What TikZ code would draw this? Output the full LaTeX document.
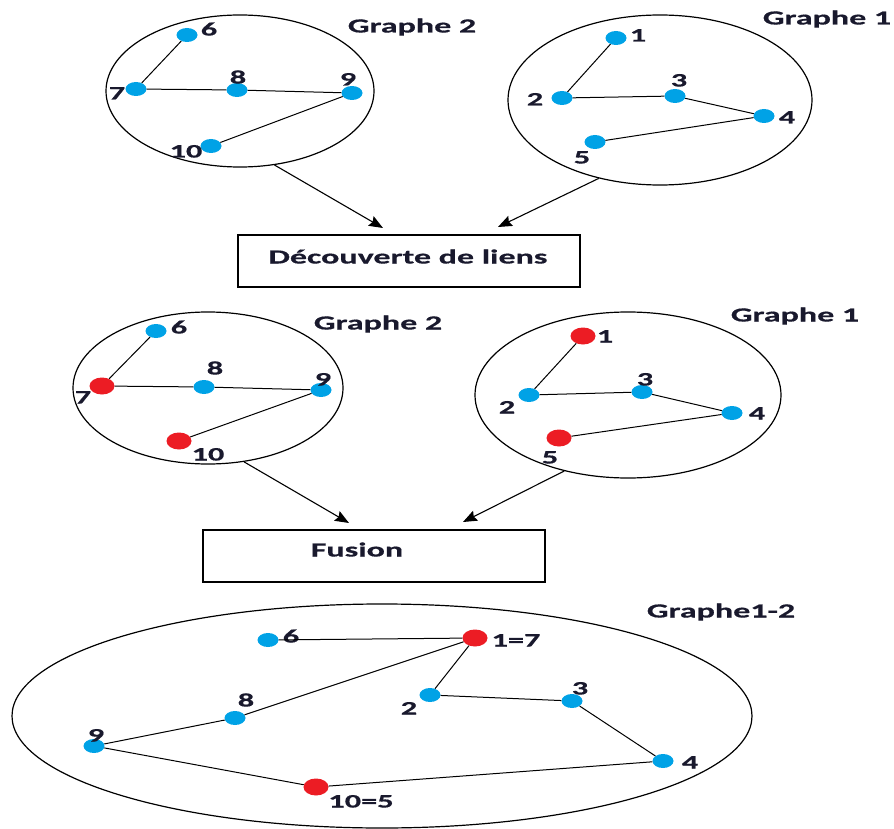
\documentclass[tikz,border=0pt]{standalone}
\usepackage{fontspec}
\newfontfamily\lbl[FakeStretch=1.7,FakeBold=0.6]{Carlito}
\usetikzlibrary{shapes.geometric,arrows.meta}
\definecolor{dotblue}{RGB}{0,162,230}
\definecolor{dotred}{RGB}{236,28,36}
\definecolor{ink}{RGB}{25,25,45}
\tikzset{
  vtx/.style={ellipse,fill=dotblue,inner sep=0,minimum width=21,minimum height=14},
  vred/.style={ellipse,fill=dotred,inner sep=0,minimum width=25,minimum height=17},
  num/.style={inner sep=0,text height=13,text depth=0,text=ink,font=\lbl\bfseries\fontsize{19}{22}\selectfont},
  title/.style={num,font=\lbl\bfseries\fontsize{20}{24}\selectfont},
  hull/.style={ellipse,draw,line width=1.2,inner sep=0},
  edge/.style={line width=1},
  stepbox/.style={draw,line width=1.3,inner sep=0},
  flow/.style={line width=1.1,-{Stealth[length=14,width=11,inset=2]}}
}
\begin{document}
\begin{tikzpicture}[x=1pt,y=-1pt]
\useasboundingbox (0,0) rectangle (894,829);

% ---- first row: the two input graphs ----
\node[hull,minimum width=268,minimum height=152] (G2a) at (240,91) {};
\node[title] (t2a) at (412,26) {Graphe 2};
\node[vtx] (a6) at (187,35) {};
\node[vtx] (a7) at (136,89) {};
\node[vtx] (a8) at (237,90) {};
\node[vtx] (a9) at (352,93) {};
\node[vtx] (a10) at (211,146) {};
\node[num] (la6) at (209,29) {6};
\node[num] (la7) at (117,93) {7};
\node[num] (la8) at (238,77) {8};
\node[num] (la9) at (348,79) {9};
\node[num] (la10) at (186,151) {10};
\draw[edge] (a6) -- (a7);
\draw[edge] (a7) -- (a8);
\draw[edge] (a8) -- (a9);
\draw[edge] (a9) -- (a10);

\node[hull,minimum width=304,minimum height=170] (G1a) at (660,100) {};
\node[title] (t1a) at (827,18) {Graphe 1};
\node[vtx] (a1) at (616,38) {};
\node[vtx] (a2) at (562,98) {};
\node[vtx] (a3) at (675,96) {};
\node[vtx] (a4) at (764,116) {};
\node[vtx] (a5) at (595,142) {};
\node[num] (la1) at (638,35) {1};
\node[num] (la2) at (535,99) {2};
\node[num] (la3) at (679,80) {3};
\node[num] (la4) at (787,117) {4};
\node[num] (la5) at (582,157) {5};
\draw[edge] (a1) -- (a2);
\draw[edge] (a2) -- (a3);
\draw[edge] (a3) -- (a4);
\draw[edge] (a4) -- (a5);

% ---- link discovery step ----
\node[stepbox,minimum width=342,minimum height=52] (disc) at (409,261) {};
\node[title] (tdisc) at (408,257) {Découverte de liens};
\coordinate (disc in1) at (383,228);
\coordinate (disc in2) at (498,227);
\draw[flow] (G2a.-65) -- (disc in1);
\draw[flow] (G1a.-128) -- (disc in2);

% ---- second row: graphs with the discovered links marked ----
\node[hull,minimum width=270,minimum height=152] (G2b) at (208,388) {};
\node[title] (t2b) at (378,323) {Graphe 2};
\node[vtx] (b6) at (156,331) {};
\node[vred] (b7) at (102,386) {};
\node[vtx] (b8) at (204,387) {};
\node[vtx] (b9) at (321,390) {};
\node[vred] (b10) at (179,441) {};
\node[num] (lb6) at (179,327) {6};
\node[num] (lb7) at (83,397) {7};
\node[num] (lb8) at (215,368) {8};
\node[num] (lb9) at (323,379) {9};
\node[num] (lb10) at (208,454) {10};
\draw[edge] (b6) -- (b7);
\draw[edge] (b7) -- (b8);
\draw[edge] (b8) -- (b9);
\draw[edge] (b9) -- (b10);

\node[hull,minimum width=306,minimum height=166] (G1b) at (628,395) {};
\node[title] (t1b) at (795,315) {Graphe 1};
\node[vred] (b1) at (583,336) {};
\node[vtx] (b2) at (529,395) {};
\node[vtx] (b3) at (642,392) {};
\node[vtx] (b4) at (732,413) {};
\node[vred] (b5) at (559,438) {};
\node[num] (lb1) at (605,336) {1};
\node[num] (lb2) at (507,407) {2};
\node[num] (lb3) at (645,379) {3};
\node[num] (lb4) at (757,413) {4};
\node[num] (lb5) at (550,457) {5};
\draw[edge] (b1) -- (b2);
\draw[edge] (b2) -- (b3);
\draw[edge] (b3) -- (b4);
\draw[edge] (b4) -- (b5);

% ---- fusion step ----
\node[stepbox,minimum width=342,minimum height=52] (fus) at (374,556) {};
\node[title] (tfus) at (357,550) {Fusion};
\coordinate (fus in1) at (349,523);
\coordinate (fus in2) at (463,522);
\draw[flow] (G2b.-64) -- (fus in1);
\draw[flow] (G1b.-130) -- (fus in2);

% ---- merged graph ----
\node[hull,minimum width=740,minimum height=224] (G12) at (382,716) {};
\node[title] (t12) at (721,611) {Graphe1-2};
\node[vtx] (c6) at (268,640) {};
\node[vred] (c17) at (475,638) {};
\node[vtx] (c8) at (235,718) {};
\node[vtx] (c2) at (430,695) {};
\node[vtx] (c3) at (572,701) {};
\node[vtx] (c9) at (94,746) {};
\node[vtx] (c4) at (663,761) {};
\node[vred] (c105) at (316,787) {};
\node[num] (lc6) at (291,636) {6};
\node[num] (lc17) at (516,640) {1=7};
\node[num] (lc8) at (246,700) {8};
\node[num] (lc2) at (409,708) {2};
\node[num] (lc3) at (580,688) {3};
\node[num] (lc9) at (96,735) {9};
\node[num] (lc4) at (690,762) {4};
\node[num] (lc105) at (361,801) {10=5};
\draw[edge] (c6) -- (c17);
\draw[edge] (c17) -- (c8);
\draw[edge] (c8) -- (c9);
\draw[edge] (c9) -- (c105);
\draw[edge] (c105) -- (c4);
\draw[edge] (c4) -- (c3);
\draw[edge] (c3) -- (c2);
\draw[edge] (c2) -- (c17);
\end{tikzpicture}
\end{document}
